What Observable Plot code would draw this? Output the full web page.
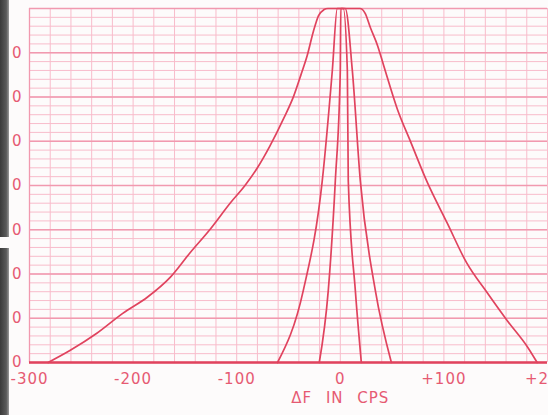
<!DOCTYPE html>
<html>
<head>
<meta charset="utf-8">
<script src="https://cdn.jsdelivr.net/npm/d3@7"></script>
<script src="https://cdn.jsdelivr.net/npm/@observablehq/plot@0.6"></script>
<style>
  html, body { margin: 0; padding: 0; background: #fdfbfb; }
  #wrap { position: relative; width: 548px; height: 415px; overflow: hidden; }
  .band { position: absolute; left: 0; width: 9px; background: linear-gradient(90deg, #3a3a3a, #5a5a5a 70%, #9a9a9a); }
  svg { font-family: "DejaVu Sans", sans-serif; }
</style>
</head>
<body>
<div id="wrap">
  <div class="band" style="top:0;height:237px"></div>
  <div class="band" style="top:248px;height:167px"></div>
  <div id="chart"></div>
</div>
<script>
// Frequency offset (cps) and relative response
const wideF = [-282, -261, -235, -210, -186, -164, -145, -126, -106, -92, -80, -68, -55, -45, -38, -32, -26, -21, -16, -12, 19, 24, 29, 36, 42, 55, 68, 84, 103, 122, 142, 161, 181, 190];
const wideV = [0, 2.7, 6.6, 11.1, 14.8, 19.3, 24.8, 30, 36.1, 40, 44, 48.9, 55, 60.2, 65, 69.3, 74.8, 78.4, 79.7, 80, 80, 78.9, 75.7, 71.6, 67, 57.3, 49.8, 40.7, 31.6, 22.5, 15.7, 9.5, 3.4, 0];

const medF = [-60.6, -35.7, -17.4, -7.7, -2.9, 4.8, 11.6, 19.3, 33.8, 49.3];
const medV = [0, 16.3, 41.1, 66, 80, 80, 66, 41.1, 16.3, 0];

const narrowF = [-20.3, -11.6, -4.8, 0, 0.5, 2.9, 6.8, 7.7, 14.5, 20.3];
const narrowV = [0, 16.3, 41.1, 66, 80, 80, 66, 41.1, 16.3, 0];

const xTicks = [-300, -200, -100, 0, 100, 200];
const xTickLabels = ["-300", "-200", "-100", "0", "+100", "+200"];
const yTicks = [0, 10, 20, 30, 40, 50, 60, 70];
const yTickLabels = ["0", "0", "0", "0", "0", "0", "0", "0"];
const xTitle = "ΔF IN CPS";

const toRows = (F, V, name) => F.map((f, i) => ({f, v: V[i], name}));
const rows = [
  ...toRows(wideF, wideV, "wide"),
  ...toRows(medF, medV, "medium"),
  ...toRows(narrowF, narrowV, "narrow")
];

const ink = "#e0435e";
const labelInk = "#e65a72";
const gridMinor = "#f8bccb";
const gridMajor = "#f199af";

const chart = Plot.plot({
  width: 548,
  height: 415,
  marginLeft: 29,
  marginRight: 1,
  marginTop: 8,
  marginBottom: 53,
  style: {background: "transparent", color: labelInk},
  x: {domain: [-300, 200]},
  y: {domain: [0, 80]},
  marks: [
    Plot.gridX(d3.range(-300, 201, 20), {stroke: gridMinor, strokeOpacity: 1, strokeWidth: 1}),
    Plot.gridY(d3.range(0, 81, 2), {stroke: gridMinor, strokeOpacity: 1, strokeWidth: 1}),
    Plot.gridY(d3.range(0, 81, 10), {stroke: gridMajor, strokeOpacity: 1, strokeWidth: 1.3}),
    Plot.ruleX([-300], {stroke: gridMajor, strokeWidth: 1.3}),
    Plot.axisX(xTicks, {
      tickSize: 0, tickPadding: 11, fontSize: 15, fill: labelInk,
      tickFormat: (d, i) => xTickLabels[i], label: null
    }),
    Plot.axisY(yTicks, {
      tickSize: 0, tickPadding: 7, fontSize: 15, fill: labelInk,
      tickFormat: (d, i) => yTickLabels[i], label: null
    }),
    Plot.text([xTitle], {x: 0, y: 0, dy: 36, fontSize: 15, fill: labelInk, textAnchor: "middle"}),
    Plot.line(rows, {x: "f", y: "v", z: "name", stroke: ink, strokeWidth: 1.7, curve: "monotone-x"}),
    Plot.ruleY([0], {stroke: ink, strokeWidth: 2.6})
  ]
});
chart.querySelectorAll("text").forEach(t => t.style.letterSpacing = "1px");
chart.querySelectorAll("text").forEach(t => { if (t.textContent === xTitle) t.style.wordSpacing = "8px"; });
document.getElementById("chart").appendChild(chart);
</script>
</body>
</html>
